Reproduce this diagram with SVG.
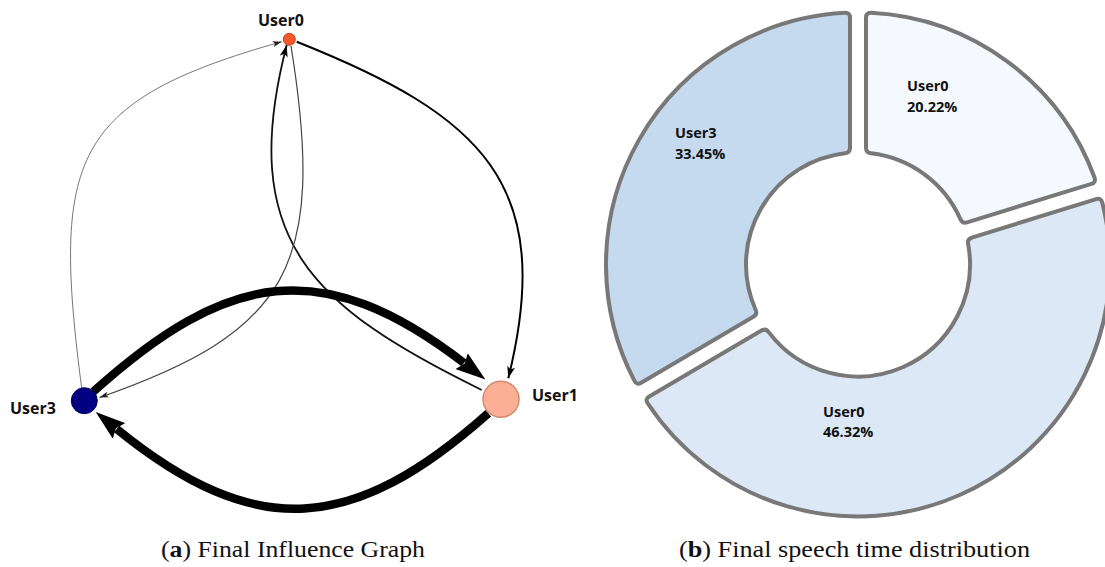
<svg xmlns="http://www.w3.org/2000/svg" width="1105" height="567" viewBox="0 0 1105 567">
<style>
.lbl{font-family:"Open Sans","DejaVu Sans",sans-serif;font-weight:700;font-size:16px;fill:#111}
.plbl{font-family:"Open Sans","DejaVu Sans",sans-serif;font-weight:700;font-size:14.5px;fill:#111}
.cap{font-family:"Liberation Serif","Times New Roman",serif;font-size:24px;fill:#111}
.seg{stroke:#787878;stroke-width:4;stroke-linejoin:round}
.e{fill:none}
</style>
<defs>
<marker id="aThick" markerUnits="userSpaceOnUse" viewBox="0 0 30 20" markerWidth="30" markerHeight="20" refX="3" refY="10" orient="auto">
<path d="M0,0 L30,10 L0,20 L4,10 Z" fill="#000"/>
</marker>
<marker id="aMed" markerUnits="userSpaceOnUse" viewBox="0 0 12 8" markerWidth="12" markerHeight="8" refX="12" refY="4" orient="auto">
<path d="M0,0 L12,4 L0,8 L3,4 Z" fill="#000"/>
</marker>
<marker id="aThin" markerUnits="userSpaceOnUse" viewBox="0 0 9 6" markerWidth="9" markerHeight="6" refX="9" refY="3" orient="auto">
<path d="M0,0 L9,3 L0,6 L2,3 Z" fill="#222"/>
</marker>
</defs>
<rect width="1105" height="567" fill="#fff"/>

<g id="connectors">
<path id="e-user3-user0" class="e" d="M81.7,388.3 C51.8,158.3 70.5,101.1 281.7,41.7" stroke="#666" stroke-width="0.9" marker-end="url(#aThin)"/>
<path id="e-user0-user1" class="e" d="M296.7,41.7 C482.7,115.7 556.3,184.3 508.3,378.3" stroke="#000" stroke-width="2" marker-end="url(#aMed)"/>
<path id="e-user1-user0" class="e" d="M481.7,390 C311.1,306.4 236.7,239 286.7,45" stroke="#111" stroke-width="1.8" marker-end="url(#aMed)"/>
<path id="e-user0-user3" class="e" d="M291,46 C327,268.75 287.2,331.8 99.5,397.5" stroke="#444" stroke-width="1.2" marker-end="url(#aThin)"/>
<path id="e-user3-user1" class="e" d="M93.3,391.7 C227,271.3 322.2,253.9 464,363" stroke="#000" stroke-width="8.5" marker-end="url(#aThick)"/>
<path id="e-user1-user3" class="e" d="M488.3,413.3 C353.8,532.8 256.4,542.4 116.7,429" stroke="#000" stroke-width="8.5" marker-end="url(#aThick)"/>
</g>

<g id="node-user0">
<circle cx="289.3" cy="39.3" r="6" fill="#f4572a" stroke="#c8401a" stroke-width="1"/>
<text class="lbl" x="258" y="26">User0</text>
</g>
<g id="node-user1">
<circle cx="501" cy="399.3" r="18" fill="#fbb096" stroke="#d4896e" stroke-width="1.5"/>
<text class="lbl" x="532" y="401">User1</text>
</g>
<g id="node-user3">
<circle cx="84.3" cy="400.7" r="13" fill="#000080" stroke="#00005a" stroke-width="1"/>
<text class="lbl" x="10" y="414">User3</text>
</g>

<g id="pie">
<g id="seg-user0-a">
<path class="seg" fill="#f5f9fe" d="M866,17.63 Q866,12.63 871.0,12.84 A252,252 0 0 1 1094.53,177.56 Q1096.22,182.36 1091.44,183.84 L967.11,222.34 Q962.33,223.82 960.44,219.2 A112,112 0 0 0 870.98,153.25 Q866,152.79 866,147.79 Z"/>
<text class="plbl" x="907" y="90.7">User0</text>
<text class="plbl" x="907" y="111.7">20.22%</text>
</g>
<g id="seg-user0-b">
<path class="seg" fill="#dce8f5" d="M1096.18,199.12 Q1100.96,197.64 1102.24,202.46 A252,252 0 0 1 647.5,403.02 Q644.95,399.1 649.26,396.57 L761.46,330.58 Q765.77,328.04 768.7,332.1 A112,112 0 0 0 968.11,243.99 Q967.07,239.1 971.85,237.62 Z"/>
<text class="plbl" x="823" y="416.7">User0</text>
<text class="plbl" x="823" y="437.3">46.32%</text>
</g>
<g id="seg-user3">
<path class="seg" fill="#c6daef" d="M641.14,382.77 Q636.83,385.3 634.47,380.85 A252,252 0 0 1 845,12.84 Q850,12.63 850,17.63 L850,147.79 Q850,152.79 845.03,153.25 A112,112 0 0 0 755.53,309.71 Q757.65,314.24 753.34,316.78 Z"/>
<text class="plbl" x="675" y="138.3">User3</text>
<text class="plbl" x="675" y="159.3">33.45%</text>
</g>
</g>

<text class="cap" x="161" y="557" textLength="264" lengthAdjust="spacingAndGlyphs">(<tspan font-weight="700">a</tspan>) Final Influence Graph</text>
<text class="cap" x="679" y="557" textLength="351" lengthAdjust="spacingAndGlyphs">(<tspan font-weight="700">b</tspan>) Final speech time distribution</text>
</svg>
